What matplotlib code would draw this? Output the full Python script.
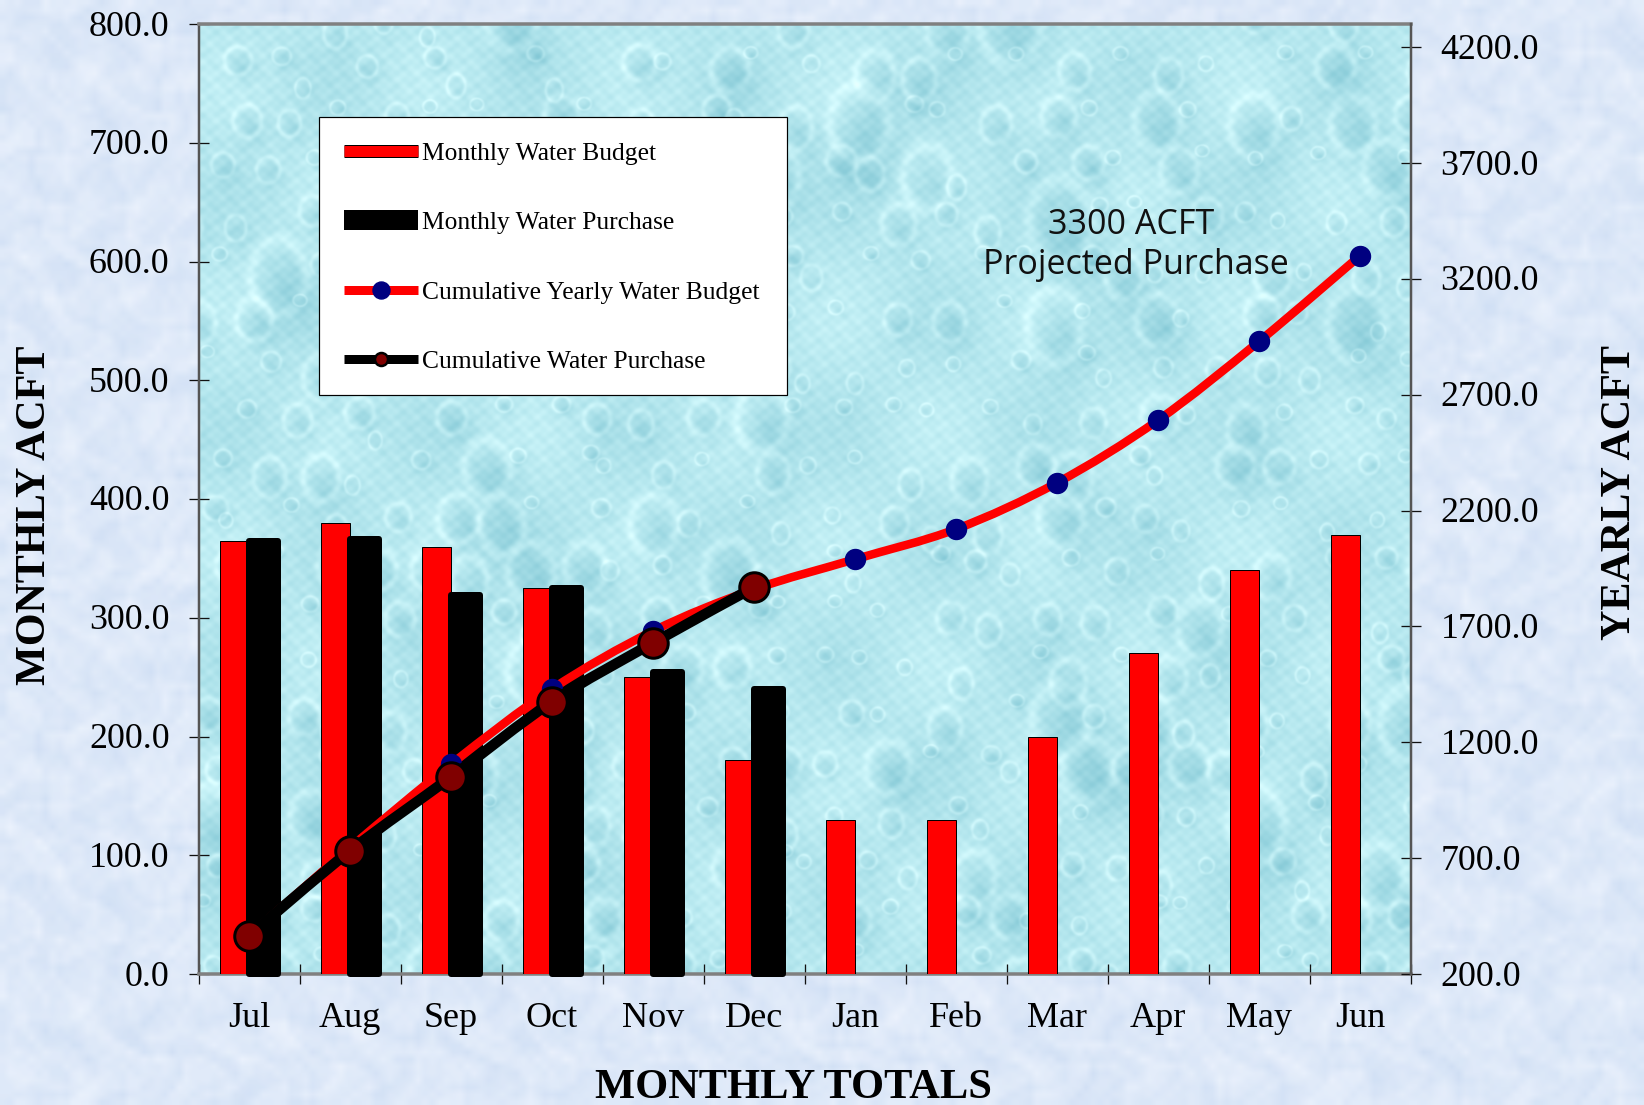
import numpy as np
import matplotlib
matplotlib.use("Agg")
from matplotlib import pyplot as plt
from matplotlib.lines import Line2D
from matplotlib.path import Path
from matplotlib.patches import PathPatch, Rectangle
from matplotlib.transforms import ScaledTranslation
import matplotlib.patheffects as pe

months = ["Jul", "Aug", "Sep", "Oct", "Nov", "Dec", "Jan", "Feb", "Mar", "Apr", "May", "Jun"]
monthly_budget = [365, 380, 360, 325, 250, 180, 130, 130, 200, 270, 340, 370]
monthly_purchase = [365, 366, 319, 325, 254, 240]
cumulative_budget = [365, 745, 1105, 1430, 1680, 1860, 1990, 2120, 2320, 2590, 2930, 3300]
cumulative_purchase = [365, 731, 1050, 1375, 1629, 1869]

W, H = 1644, 1105
DPI = 100
px = 72 / DPI  # one pixel in points

plt.rcParams["font.family"] = ["Liberation Serif", "DejaVu Serif"]


def page_texture():
    # pale blue paper; the warped coordinates break up any regular weave
    y, x = np.mgrid[0:H // 7, 0:W // 7].astype(float)
    u = x + 4 * np.sin(y * 0.23 + 0.5) + 2 * np.sin(y * 0.61)
    v = y + 4 * np.sin(x * 0.19 + 1.7) + 2 * np.sin(x * 0.53)
    n = (np.sin(u * 0.83 + 0.4) * np.sin(v * 0.71)
         + np.sin(u * 0.37 + v * 0.19 + 1.3) * np.sin(v * 0.43 - u * 0.13)
         + np.sin(u * 1.57 + 2.0) * np.sin(v * 1.33 + 0.7))
    n = n / 2.5
    base = np.array([222, 233, 249.0])
    img = base + n[..., None] * np.array([13, 9, 4.0])
    return np.clip(img, 0, 255).astype(np.uint8)


def panel_texture(w, h):
    # aqua panel covered with soft water drops lit from the upper left
    yy, xx = np.mgrid[0:h, 0:w].astype(float)
    shade = 0.22 * np.sin(xx * 0.031 + 0.7) * np.sin(yy * 0.027)
    shade += 0.12 * np.sin(xx * 0.47) * np.sin(yy * 0.53 + 0.6)
    shade += 0.12 * np.sin(xx * 0.23 + yy * 0.11) * np.sin(yy * 0.29 - xx * 0.07)
    step = 50
    for row in range(h // step + 2):
        for col in range(w // step + 2):
            a = np.sin(row * 12.9898 + col * 78.233) * 43758.5453
            b = np.sin(row * 39.346 + col * 11.135) * 24634.6345
            a, b = a - np.floor(a), b - np.floor(b)
            cx = col * step + (row % 2) * step / 2 + (a - 0.5) * 44
            cy = row * step + (b - 0.5) * 44
            rx = 7 + 28 * (a * b) ** 1.2
            ry = rx * (0.85 + 0.5 * b)
            d = np.sqrt(((xx - cx) / rx) ** 2 + ((yy - cy) / ry) ** 2)
            d2 = np.sqrt(((xx - cx + 0.35 * rx) / rx) ** 2 + ((yy - cy + 0.5 * ry) / ry) ** 2)
            shade -= 0.7 * np.exp(-d ** 2 * 1.2) * (0.3 + 0.7 * a)
            shade += 0.42 * np.exp(-((d2 - 0.95) / 0.2) ** 2)
    base = np.array([184, 233, 240.0])
    tint = np.array([48, 30, 24.0])
    img = base + shade[..., None] * tint
    return np.clip(img, 0, 255).astype(np.uint8)


def smooth_path(xs, ys):
    # spreadsheet style smoothing: cubic segments through every point
    pts = np.column_stack([xs, ys]).astype(float)
    verts = [pts[0]]
    codes = [Path.MOVETO]
    for i in range(len(pts) - 1):
        before = pts[max(i - 1, 0)]
        after = pts[min(i + 2, len(pts) - 1)]
        verts.append(pts[i] + (pts[i + 1] - before) / 6)
        verts.append(pts[i + 1] - (after - pts[i]) / 6)
        verts.append(pts[i + 1])
        codes += [Path.CURVE4] * 3
    return Path(verts, codes)


fig = plt.figure(figsize=(W / DPI, H / DPI), dpi=DPI)

page = fig.add_axes([0, 0, 1, 1], zorder=-2)
page.imshow(page_texture(), aspect="auto", interpolation="bilinear")
page.axis("off")

left, right, top, bottom = 198.5, 1410.5, 24, 974
rect = [left / W, 1 - bottom / H, (right - left) / W, (bottom - top) / H]

back = fig.add_axes(rect, zorder=-1)
back.imshow(panel_texture(int(right - left), int(bottom - top)), aspect="auto", interpolation="bilinear")
back.axis("off")

ax = fig.add_axes(rect, zorder=1)
ax.patch.set_alpha(0)
x = np.arange(len(months))
ax.bar(x, monthly_budget, width=-0.29, align="edge", color="#ff0000",
       edgecolor="black", linewidth=1 * px, zorder=3, label="Monthly Water Budget")
bars = ax.bar(x[:len(monthly_purchase)], monthly_purchase, width=0.29, align="edge", color="black",
              edgecolor="black", linewidth=6 * px, zorder=3.1, clip_on=False)
for b in bars:
    b.set_joinstyle("round")
    b.set_clip_on(False)

ax.set_xlim(-0.5, 11.5)
ax.set_ylim(0, 800)
ax.set_yticks(np.arange(0, 801, 100))
ax.set_yticklabels([f"{v:.1f}" for v in np.arange(0, 801, 100)])
ax.set_xticks(np.arange(-0.5, 12, 1))
ax.set_xticklabels([])
ax.set_xticks(x, minor=True)
ax.set_xticklabels(months, minor=True)
ax.tick_params(axis="x", which="major", direction="inout", length=20 * px, width=1.3 * px, color="#111111")
ax.tick_params(axis="x", which="minor", length=0, pad=28 * px, labelsize=26)
ax.tick_params(axis="y", direction="inout", length=20 * px, width=1.3 * px, color="#111111",
               pad=19 * px, labelsize=25.8)
for name in ["top", "bottom"]:
    ax.spines[name].set_color("#808080")
    ax.spines[name].set_linewidth(3.5 * px)
ax.spines["left"].set_color("#555555")
ax.spines["left"].set_linewidth(2.5 * px)
ax.spines["right"].set_visible(False)

ax2 = ax.twinx()
ax2.patch.set_alpha(0)
ax2.set_ylim(200, 4300)
ax2.set_yticks(np.arange(200, 4201, 500))
ax2.set_yticklabels([f"{v:.1f}" for v in np.arange(200, 4201, 500)])
ax2.tick_params(axis="y", direction="inout", length=20 * px, width=1.3 * px, color="#111111",
                pad=20 * px, labelsize=25.8)
for name in ["top", "bottom", "left"]:
    ax2.spines[name].set_visible(False)
ax2.spines["right"].set_color("#555555")
ax2.spines["right"].set_linewidth(2.5 * px)

# the value labels sit a little above their ticks
nudge = ScaledTranslation(0, 1 / DPI, fig.dpi_scale_trans)
for label in ax.get_yticklabels() + ax2.get_yticklabels():
    label.set_transform(label.get_transform() + nudge)

# cumulative curves on the yearly axis
ax2.add_patch(PathPatch(smooth_path(x, cumulative_budget), fill=False, edgecolor="#ff0000",
                        linewidth=8.5 * px, capstyle="round", zorder=4))
ax2.plot(x, cumulative_budget, linestyle="none", marker="o", markersize=20 * px,
         markerfacecolor="#000080", markeredgecolor="#000080", zorder=4.1)
x_buy = x[:len(cumulative_purchase)]
ax2.add_patch(PathPatch(smooth_path(x_buy, cumulative_purchase), fill=False, edgecolor="black",
                        linewidth=10.5 * px, capstyle="round", zorder=4.2))
ax2.plot(x_buy, cumulative_purchase, linestyle="none", marker="o", markersize=29.5 * px,
         markerfacecolor="#800000", markeredgecolor="black", markeredgewidth=3 * px, zorder=4.3)

handles = [
    Line2D([0], [0], color="#ff0000", lw=11 * px, solid_capstyle="butt",
           path_effects=[pe.Stroke(linewidth=13 * px, foreground="black"), pe.Normal()]),
    Line2D([0], [0], color="black", lw=20 * px, solid_capstyle="butt"),
    Line2D([0], [0], color="#ff0000", lw=9 * px, solid_capstyle="butt", marker="o",
           markersize=17 * px, markerfacecolor="#000080", markeredgecolor="#000080"),
    Line2D([0], [0], color="black", lw=9 * px, solid_capstyle="butt", marker="o",
           markersize=13 * px, markerfacecolor="#800000", markeredgecolor="black", markeredgewidth=2.5 * px),
]
labels = ["Monthly Water Budget", "Monthly Water Purchase",
          "Cumulative Yearly Water Budget", "Cumulative Water Purchase"]
# white box behind the legend, which itself has no frame
ax2.add_patch(Rectangle((319 / W, 1 - 395 / H), 468 / W, 278 / H, transform=fig.transFigure,
                        facecolor="white", edgecolor="black", linewidth=1.2 * px, zorder=9, clip_on=False))
leg = ax2.legend(handles, labels, loc="upper left", bbox_to_anchor=(319 / W, 1 - 117 / H),
                 bbox_transform=fig.transFigure, borderaxespad=0, fontsize=18.4, frameon=False,
                 numpoints=1, handlelength=2.9, handletextpad=0.16, labelspacing=1.82, borderpad=0.98)
leg.set_zorder(10)

fig.text(1079 * 1.0485 / W, 1 - 215 * 1.0485 / H, "3300 ACFT", family="Open Sans", fontsize=24.5,
         ha="center", va="center", color="#111111")
fig.text(1083 * 1.0485 / W, 1 - 253 * 1.0485 / H, "Projected Purchase", family="Open Sans", fontsize=24.5,
         ha="center", va="center", color="#111111")

fig.text(793 / W, 1 - 1088 / H, "MONTHLY TOTALS", fontsize=30.6, fontweight="bold", ha="center", va="center")
fig.text(35 / W, 1 - 515 / H, "MONTHLY ACFT", fontsize=30.3, fontweight="bold", rotation=90, ha="center", va="center")
fig.text(1620 / W, 1 - 493 / H, "YEARLY ACFT", fontsize=30.3, fontweight="bold", rotation=90, ha="center", va="center")

plt.savefig("out.png", dpi=DPI)
